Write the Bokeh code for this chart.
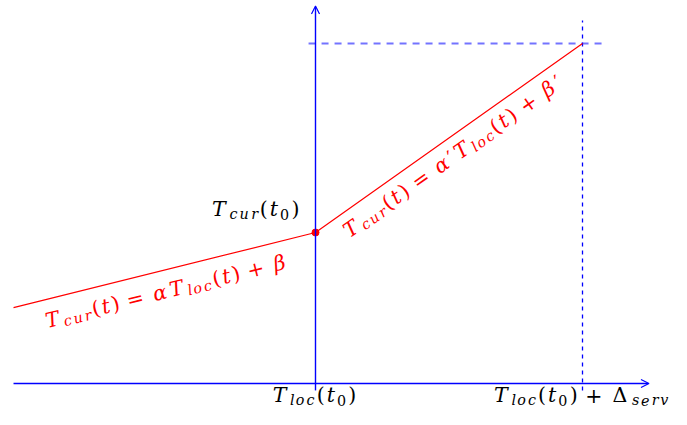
import math
from bokeh.plotting import figure
from bokeh.models import Range1d, Arrow, OpenHead, ColumnDataSource
from bokeh.core.properties import value
from bokeh.embed import file_html
from bokeh.resources import INLINE

# ---------------- data ----------------
# piecewise clock relation: T_cur as a function of T_loc (t0 at 0, t0+Δ_serv at 1)
t_loc = [-1.131, 0.0, 1.0]
t_cur = [0.503, 1.0, 2.252]

x_axis_span = [-1.131, 1.249]      # horizontal axis (T_loc)
y_axis_span = [0.0, 2.500]         # vertical axis (T_cur)
tick_below = [-0.046, 0.0]         # small tick under the axis at t0
guide_h_span = [-0.026, 1.079]     # dashed horizontal guide at T_cur(t0+Δ_serv)
guide_v_span = [-0.046, 2.404]     # dashed vertical guide at t0+Δ_serv

tick_positions = [0.0, 1.0]
tick_labels = [
    [("T", "it"), ("loc", "sub"), ("(", "rm"), ("t", "it"), ("0", "subrm"), (")", "rm")],
    [("T", "it"), ("loc", "sub"), ("(", "rm"), ("t", "it"), ("0", "subrm"), (")", "rm"),
     (" + ", "rm"), ("Δ", "rm"), ("serv", "sub")],
]
point_label = [("T", "it"), ("cur", "sub"), ("(", "rm"), ("t", "it"), ("0", "subrm"), (")", "rm")]
eq_before = [("T", "it"), ("cur", "sub"), ("(", "rm"), ("t", "it"), (")", "rm"), (" = ", "rm"),
             ("α", "it"), ("T", "it"), ("loc", "sub"), ("(", "rm"), ("t", "it"), (")", "rm"),
             (" + ", "rm"), ("β", "it")]
eq_after = [("T", "it"), ("cur", "sub"), ("(", "rm"), ("t", "it"), (")", "rm"), (" = ", "rm"),
            ("α", "it"), ("′", "rm"), ("T", "it"), ("loc", "sub"), ("(", "rm"), ("t", "it"), (")", "rm"),
            (" + ", "rm"), ("β", "it"), ("′", "rm")]

# ---------------- layout ----------------
W, H = 671, 409
PX_X, PX_Y = 267.0, 151.0          # pixels per unit
ORIG_X, ORIG_Y = 315.0, 383.0      # canvas pixel of the origin

FONT = "DejaVu Serif"
S = 20.5
K = 1.25
SUB = 0.7
SUB_DROP = 2.5
MID = 0.346                        # middle of the font box above the baseline, in em
W_RM = {"(": 0.39, ")": 0.39, "0": 0.636, "+": 0.838, "=": 0.838, " ": 0.22,
        "Δ": 0.76, "′": 0.30, "T": 0.68}
W_IT = {"T": 0.68, "c": 0.56, "u": 0.65, "r": 0.48, "l": 0.32, "o": 0.60, "t": 0.40,
        "s": 0.51, "e": 0.59, "v": 0.59, "α": 0.67, "β": 0.64}

p = figure(width=W, height=H, output_backend="svg", toolbar_location=None,
           x_axis_location=None, y_axis_location=None, min_border=0,
           outline_line_color=None,
           x_range=Range1d(-ORIG_X / PX_X, (W - ORIG_X) / PX_X),
           y_range=Range1d(-(H - ORIG_Y) / PX_Y, ORIG_Y / PX_Y))
p.xgrid.visible = False
p.ygrid.visible = False


def layout(pieces):
    chars, a = [], 0.0
    for txt, kind in pieces:
        small = kind in ("sub", "subrm")
        size = S * SUB if small else S
        style = "italic" if kind in ("it", "sub") else "normal"
        drop = SUB_DROP if small else 0.0
        table = W_IT if style == "italic" else W_RM
        for ch in txt:
            chars.append((ch, a, drop, size, style))
            a += table.get(ch, 0.6) * size * K
    return chars, a


def place(x0, y0, pieces, theta, align, along, perp, color):
    chars, width = layout(pieces)
    start = {"left": 0.0, "center": -width / 2, "right": -width}[align] + along
    c, s = math.cos(theta), math.sin(theta)
    d = dict(x=[], y=[], text=[], angle=[], size=[], style=[])
    for ch, a, drop, size, style in chars:
        if ch == " ":
            continue
        aa = start + a
        dd = perp + drop - MID * size   # anchor at middle of the glyph box
        dx = aa * c + dd * s
        dy = -aa * s + dd * c          # screen, downward
        d["x"].append(x0 + dx / PX_X)
        d["y"].append(y0 - dy / PX_Y)
        d["text"].append(ch)
        d["angle"].append(theta)
        d["size"].append(f"{size:.1f}px")
        d["style"].append(style)
    p.text(x="x", y="y", text="text", angle="angle", text_font=value(FONT),
           text_font_size="size", text_font_style="style", text_color=color,
           text_align="left", text_baseline="middle", source=ColumnDataSource(d))


BLUE = "#0000ff"
RED = "#ff0000"

# guides
p.line(guide_h_span, [t_cur[2]] * 2, line_color=BLUE, line_alpha=0.55, line_width=2,
       line_dash="7 6")
p.line([t_loc[2]] * 2, guide_v_span, line_color=BLUE, line_width=1.3, line_dash="4 4")

# axes
p.add_layout(Arrow(end=OpenHead(size=8, line_color=BLUE, line_width=1.2),
                   x_start=x_axis_span[0], y_start=0, x_end=x_axis_span[1], y_end=0,
                   line_color=BLUE, line_width=1.4))
p.add_layout(Arrow(end=OpenHead(size=8, line_color=BLUE, line_width=1.2),
                   x_start=0, y_start=y_axis_span[0], x_end=0, y_end=y_axis_span[1],
                   line_color=BLUE, line_width=1.4))
p.line([tick_positions[0]] * 2, tick_below, line_color=BLUE, line_width=1.4)

# relation
p.line(t_loc, t_cur, line_color=RED, line_width=1.2)
p.scatter([t_loc[1]], [t_cur[1]], size=7, color=RED)

# labels
for xt, lab in zip(tick_positions, tick_labels):
    place(xt, 0.0, lab, 0.0, "center", 0.0, 19.0, "black")
place(t_loc[1], t_cur[1], point_label, 0.0, "right", -14.0, -16.0, "black")

for i, (pieces, along, perp) in enumerate([(eq_before, -2.0, 28.0), (eq_after, -6.0, 24.5)]):
    xa, xb = t_loc[i], t_loc[i + 1]
    ya, yb = t_cur[i], t_cur[i + 1]
    theta = math.atan2((yb - ya) * PX_Y, (xb - xa) * PX_X)
    place((xa + xb) / 2, (ya + yb) / 2, pieces, theta, "center", along, perp, RED)

open("out.html", "w").write(file_html(p, INLINE))
